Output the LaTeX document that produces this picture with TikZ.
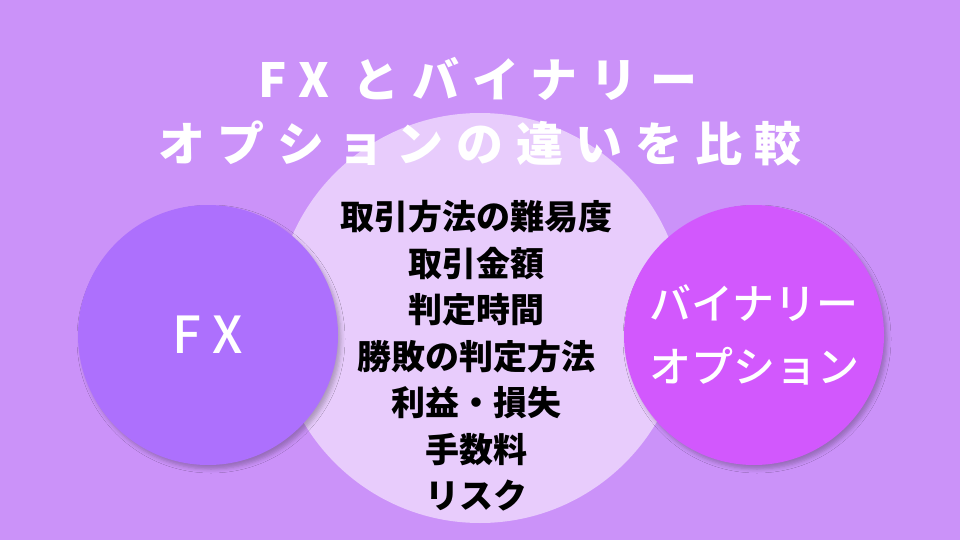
\documentclass[tikz,border=0pt]{standalone}
\usepackage{fontspec}
\usetikzlibrary{shadows.blur}

\newfontfamily\jpfont{Noto Sans CJK JP}
\newfontfamily\jpmed{Noto Sans CJK JP Medium}

\definecolor{bgcol}{RGB}{203,146,249}
\definecolor{midcol}{RGB}{232,204,252}
\definecolor{fxcol}{RGB}{173,112,253}
\definecolor{bocol}{RGB}{210,88,253}

\begin{document}
\begin{tikzpicture}[
            x=1pt, y=-1pt, align=center,
            bubble/.style={circle, minimum size=260pt, inner sep=0pt, text=white,
                blur shadow={shadow xshift=3pt, shadow yshift=-4pt,
                    shadow blur radius=4pt, shadow opacity=25}},
            headline/.style={text=white,
                font=\jpfont\bfseries\fontsize{47}{50}\selectfont\addfontfeature{LetterSpace=27}}
        ]
            \fill[bgcol] (0,0) rectangle (960,540);
            \useasboundingbox (0,0) rectangle (960,540);

            % middle
            \node[circle, minimum size=410pt, inner sep=0pt, fill=midcol] (mid) at (480,318) {};
            \node[font=\jpfont\bfseries\fontsize{34}{46.5}\selectfont] (items) at (476,356)
                {取引方法の難易度\\取引金額\\判定時間\\勝敗の判定方法\\利益・損失\\手数料\\リスク};

            % FX
            \node[bubble, fill=fxcol,
                font=\jpmed\fontsize{51}{50}\selectfont\addfontfeature{LetterSpace=25}] (fx) at (208,335) {FX};

            % binary option
            \node[bubble, fill=bocol,
                font=\jpmed\fontsize{42}{63}\selectfont] (bo) at (754,335) {バイナリー\\オプション};

            % title
            \node[headline] (title1) at (478,79) {FX とバイナリー};
            \node[headline] (title2) at (480,143) {オプションの違いを比較};

        \end{tikzpicture}
\end{document}
